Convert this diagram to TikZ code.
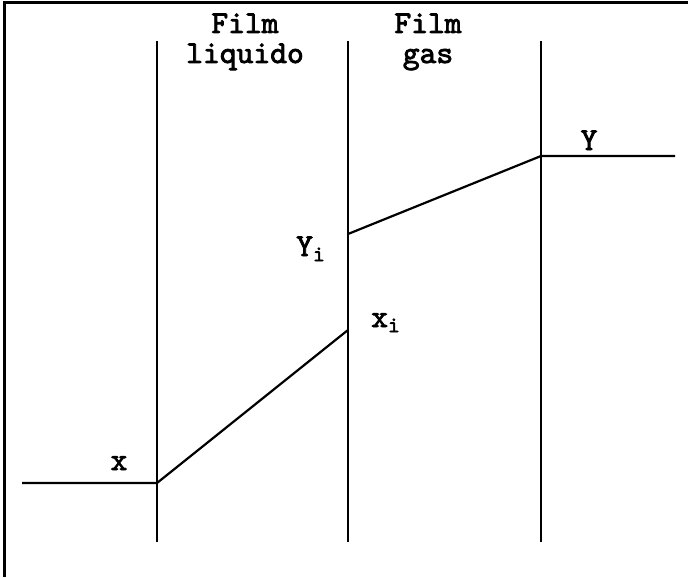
\documentclass[tikz,border=0pt]{standalone}
\usepackage{fontspec}
\newfontfamily\filmfont{lmmono10-regular.otf}[FakeBold=2.5]
\usetikzlibrary{positioning}

\tikzset{
  film/.style={line width=0.7pt},
  profile/.style={line width=1.1pt},
  lbl/.style={anchor=base, inner sep=0pt, font=\fontsize{16}{18}\selectfont\filmfont},
  head/.style={align=center, inner sep=0pt, anchor=base, font=\fontsize{16}{15}\selectfont\filmfont}
}

\begin{document}
\begin{tikzpicture}[x=0.5pt, y=-0.5pt]
\useasboundingbox (0,0) rectangle (688,577);

% frame (top and left only)
\draw[line width=1.5pt] (4,577) -- (4,3) -- (688,3);

% film boundaries
\coordinate (b1t) at (157,41);
\coordinate (b1b) at (157,542);
\coordinate (b2t) at (348,41);
\coordinate (b2b) at (348,542);
\coordinate (b3t) at (541,41);
\coordinate (b3b) at (541,542);
\draw[film] (b1t) -- (b1b);
\draw[film] (b2t) -- (b2b);
\draw[film] (b3t) -- (b3b);

% headings (base = last line)
\node[head] (hliq) at (245,63) {Film\\liquido};
\node[head] (hgas) at (428,63) {Film\\gas};

% concentration profile points
\coordinate (xbulk) at (22,483);
\coordinate (xfilm) at (157,483);
\coordinate (xint) at (348,330);
\coordinate (yint) at (348,234);
\coordinate (yfilm) at (541,156);
\coordinate (ybulk) at (675,156);

\draw[profile] (xbulk) -- (xfilm) -- (xint);
\draw[profile] (yint) -- (yfilm) -- (ybulk);

% labels
\node[lbl] (lx) at (119,470) {x};
\node[lbl] (ly) at (589,150) {Y};
\node[lbl] (lyi) at (311,256) {Y\textsubscript{i}};
\node[lbl] (lxi) at (386,327) {x\textsubscript{i}};

\end{tikzpicture}
\end{document}
